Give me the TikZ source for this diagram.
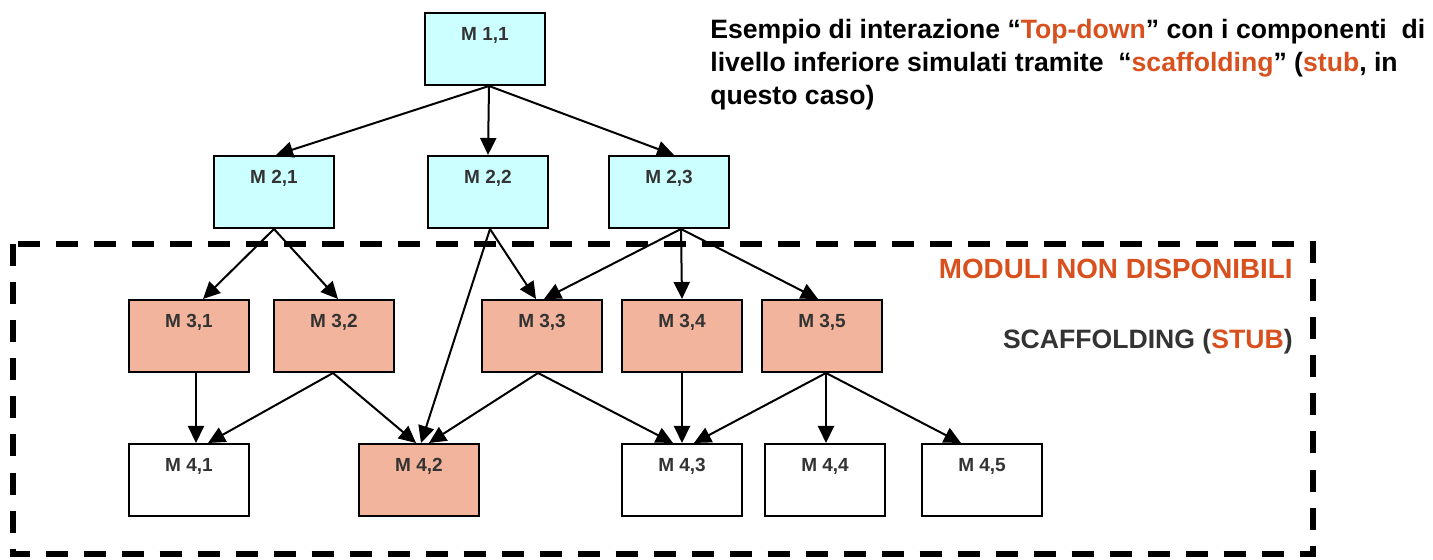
\documentclass[tikz,border=0pt]{standalone}
\usepackage{fontspec}
\setmainfont{Liberation Sans}
\usetikzlibrary{calc,arrows.meta}
\definecolor{hicol}{HTML}{D8501E}
\definecolor{txtgray}{HTML}{333333}
\definecolor{upfill}{HTML}{CCFFFF}
\definecolor{stubfill}{HTML}{F2B49C}
\begin{document}
\begin{tikzpicture}[x=0.5pt,y=-0.5pt,
  module/.style={draw=black,line width=1pt,rectangle,anchor=north west,
    minimum width=60pt,minimum height=36pt,inner sep=0pt,
    text height=13.6pt,text depth=22.4pt,
    font=\fontsize{9.5pt}{11pt}\selectfont\bfseries,text=txtgray},
  upper/.style={module,fill=upfill},
  stub/.style={module,fill=stubfill},
  plain/.style={module,fill=white},
  arr/.style={line width=1pt,-{Triangle[length=8.5pt,width=8pt]}},
  frame/.style={line width=3pt,dash pattern=on 11pt off 8pt},
]
\useasboundingbox (0,0) rectangle (1433,560);

% dashed region of the modules that are not yet available
\draw[frame] (13,244.5) rectangle (1313,554);

% level 1
\node[upper] (m11) at (424,12) {M 1,1};
% level 2
\node[upper] (m21) at (213,155) {M 2,1};
\node[upper] (m22) at (427,155) {M 2,2};
\node[upper] (m23) at (608,155) {M 2,3};
% level 3 (stubs)
\node[stub] (m31) at (128,299) {M 3,1};
\node[stub] (m32) at (273,299) {M 3,2};
\node[stub] (m33) at (481,299) {M 3,3};
\node[stub] (m34) at (621,299) {M 3,4};
\node[stub] (m35) at (761,299) {M 3,5};
% level 4
\node[plain] (m41) at (128,443) {M 4,1};
\node[stub]  (m42) at (358,443) {M 4,2};
\node[plain] (m43) at (621,443) {M 4,3};
\node[plain] (m44) at (764,443) {M 4,4};
\node[plain] (m45) at (921,443) {M 4,5};

% calls between modules
\draw[arr] ($(m11.south)+(4,0)$) -- ($(m21.north)+(2,0)$);
\draw[arr] ($(m11.south)+(4,0)$) -- ($(m22.north)+(0,0)$);
\draw[arr] ($(m11.south)+(4,0)$) -- ($(m23.north)+(5,0)$);

\draw[arr] (m21.south) -- ($(m31.north)+(14,0)$);
\draw[arr] (m21.south) -- ($(m32.north)+(4,0)$);
\draw[arr] ($(m22.south)+(2,0)$) -- ($(m33.north)+(-6,0)$);
\draw[arr] ($(m22.south)+(2,0)$) -- ($(m42.north)+(2,0)$);
\draw[arr] ($(m23.south)+(12,0)$) -- ($(m33.north)+(2,0)$);
\draw[arr] ($(m23.south)+(12,0)$) -- (m34.north);
\draw[arr] ($(m23.south)+(12,0)$) -- ($(m35.north)+(-4,0)$);

\draw[arr] ($(m31.south)+(7,0)$) -- ($(m41.north)+(7,0)$);
\draw[arr] ($(m32.south)+(-1,0)$) -- ($(m41.north)+(19,0)$);
\draw[arr] ($(m32.south)+(-1,0)$) -- ($(m42.north)+(-3,0)$);
\draw[arr] ($(m33.south)+(-4,0)$) -- ($(m42.north)+(10,0)$);
\draw[arr] ($(m33.south)+(-4,0)$) -- ($(m43.north)+(-9,0)$);
\draw[arr] (m34.south) -- (m43.north);
\draw[arr] ($(m35.south)+(4,0)$) -- ($(m43.north)+(12,0)$);
\draw[arr] ($(m35.south)+(4,0)$) -- ($(m44.north)+(1,0)$);
\draw[arr] ($(m35.south)+(4,0)$) -- ($(m45.north)+(-21,0)$);

% captions
\node[anchor=north west,align=left,inner sep=0pt,
  font=\fontsize{13.3pt}{16.5pt}\selectfont\bfseries] (title) at (710,19)
  {Esempio di interazione “\textcolor{hicol}{Top-down}” con i componenti\ \ di\\
   livello inferiore simulati tramite\ \ “\textcolor{hicol}{scaffolding}” (\textcolor{hicol}{stub}, in\\
   questo caso)};
\node[anchor=base east,inner sep=0pt,text=hicol,
  font=\fontsize{13.9pt}{16pt}\selectfont\bfseries] (nodisp) at (1293,279)
  {MODULI NON DISPONIBILI};
\node[anchor=base east,inner sep=0pt,text=txtgray,
  font=\fontsize{13.3pt}{16pt}\selectfont\bfseries] (scaff) at (1293,349)
  {SCAFFOLDING (\textcolor{hicol}{STUB})};
\end{tikzpicture}
\end{document}
